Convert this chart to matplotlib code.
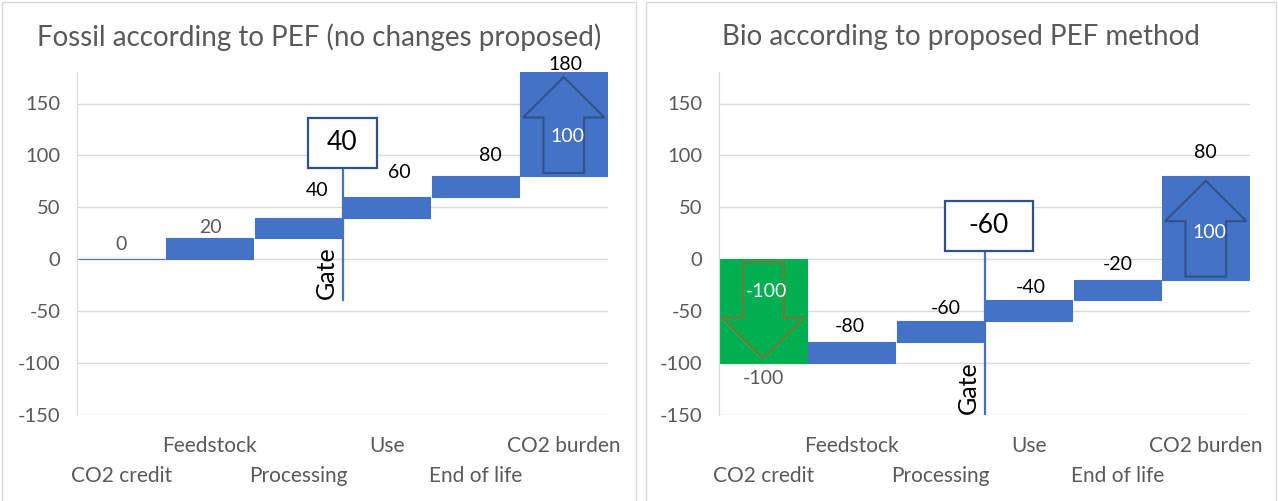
import matplotlib
matplotlib.use("Agg")
import matplotlib.pyplot as plt
from matplotlib.patches import Polygon, Rectangle
import numpy as np

# data
categories = ["CO2 credit", "Feedstock", "Processing", "Use", "End of life", "CO2 burden"]
fossil_steps = [0, 20, 20, 20, 20, 100]
bio_steps = [-100, 20, 20, 20, 20, 100]
titles = ["Fossil according to PEF (no changes proposed)", "Bio according to proposed PEF method"]
y_ticks = [-150, -100, -50, 0, 50, 100, 150]
gate_after = 2  # gate sits between Processing and Use

BLUE = "#4472C4"
GREEN = "#00B050"
NAVY = "#2F528F"
OLIVE = "#6F7A3A"
GRID = "#D9D9D9"
GREY_TXT = "#595959"

plt.rcParams["font.family"] = ["Lato", "DejaVu Sans"]
plt.rcParams["axes.unicode_minus"] = False

W, H = 1278, 501


def draw_arrow(ax, x, start, step, color):
    # outline arrow inside a bar, pointing the way the step goes
    sign = np.sign(step)
    h = abs(step)
    y0 = start + sign * 0.03 * h
    tip = start + step - sign * 0.045 * h
    base = tip - sign * 0.39 * h
    sw, hw = 0.23, 0.46
    pts = [(x - sw, y0), (x + sw, y0), (x + sw, base), (x + hw, base),
           (x, tip), (x - hw, base), (x - sw, base)]
    ax.add_patch(Polygon(pts, closed=True, fill=False, edgecolor=color,
                         linewidth=1.5, zorder=3))


def panel(ax, steps, style):
    steps = np.array(steps)
    totals = np.cumsum(steps)
    starts = totals - steps
    x = np.arange(len(steps))
    colors = [style["first"]] + [BLUE] * (len(steps) - 1)

    ax.bar(x, steps, bottom=starts, width=0.98, color=colors, edgecolor=colors,
           linewidth=0.8, zorder=2)

    # running totals as labels
    for i in x:
        dx, dy = style["lab_off"][i]
        col = GREY_TXT if i in style["grey_labels"] else "black"
        ax.annotate(f"{totals[i]:g}", xy=(i, totals[i]), xytext=(dx, dy),
                    textcoords="offset pixels", ha="center", va="center",
                    fontsize=14, color=col, zorder=4)

    # arrows with the step value inside
    for i, ecol, frac in style["arrows"]:
        draw_arrow(ax, i, starts[i], steps[i], ecol)
        ax.text(i + 0.04, starts[i] + frac * steps[i], f"{steps[i]:g}", ha="center",
                va="center", fontsize=14, color="white", zorder=4)

    # gate line + box
    gx = gate_after + 0.5
    gval = totals[gate_after]
    by, bw, bh = style["box_y"], style["box_w"], 48
    ax.plot([gx, gx], [style["gate_bottom"], by - bh / 2], color=BLUE, lw=1.6, zorder=3)
    ax.add_patch(Rectangle((gx - bw / 2 + style["box_dx"], by - bh / 2), bw, bh,
                           facecolor="white", edgecolor=NAVY, lw=1.6, zorder=4))
    ax.text(gx + style["box_dx"], by, f"{gval:g}", ha="center", va="center",
            fontsize=19, color="black", zorder=5)
    ax.annotate("Gate", xy=(gx, style["gate_bottom"]), xytext=(-5, 1),
                textcoords="offset pixels", rotation=90, ha="right", va="bottom",
                fontsize=18, color="black")

    # axes styling
    ax.set_xlim(-0.5, len(steps) - 0.5)
    ax.set_ylim(-150, 180)
    ax.set_yticks(y_ticks)
    ax.set_xticks([])
    ax.yaxis.grid(True, color=GRID, lw=1.0)
    ax.set_axisbelow(True)
    for s in ["top", "right", "bottom"]:
        ax.spines[s].set_visible(False)
    ax.spines["left"].set_color(GRID)
    ax.tick_params(axis="y", length=0, pad=12, labelsize=14.5, labelcolor=GREY_TXT)

    # staggered category labels
    for i, name in enumerate(categories):
        off = -31 if i % 2 else -62
        ax.annotate(name, xy=(i, 0), xycoords=("data", "axes fraction"),
                    xytext=(0, off), textcoords="offset pixels", ha="center",
                    va="center", fontsize=15, color=GREY_TXT, annotation_clip=False)


fig = plt.figure(figsize=(W / 100, H / 100), dpi=100)

left_style = {
    "first": BLUE,
    "lab_off": [(0, 15), (1, 11), (19, 27), (13, 24), (15, 21), (2, 8)],
    "grey_labels": [0, 1],
    "arrows": [(5, NAVY, 0.38)],
    "box_y": 112, "box_w": 0.79, "box_dx": 0.0,
    "gate_bottom": -40,
}
right_style = {
    "first": GREEN,
    "lab_off": [(0, -16), (-2, 15), (6, 13), (2, 13), (1, 15), (0, 24)],
    "grey_labels": [0],
    "arrows": [(0, OLIVE, 0.31), (5, NAVY, 0.46)],
    "box_y": 32, "box_w": 0.99, "box_dx": 0.05,
    "gate_bottom": -150,
}

ax_l = fig.add_axes([77 / W, (H - 414.5) / H, 531 / W, 342.1 / H])
ax_r = fig.add_axes([719 / W, (H - 414.5) / H, 531 / W, 342.1 / H])
panel(ax_l, fossil_steps, left_style)
panel(ax_r, bio_steps, right_style)

# titles and chart-area borders
for cx, t in zip([319, 961], titles):
    fig.text(cx / W, 1 - 37 / H, t, ha="center", va="center", fontsize=20, color=GREY_TXT)
for x0, x1 in [(2, 636), (646, 1276)]:
    fig.add_artist(Rectangle((x0 / W, -0.05), (x1 - x0) / W, 1.05 - 2 / H,
                             transform=fig.transFigure, fill=False,
                             edgecolor=GRID, lw=1.0))

fig.savefig("out.png", dpi=100)
